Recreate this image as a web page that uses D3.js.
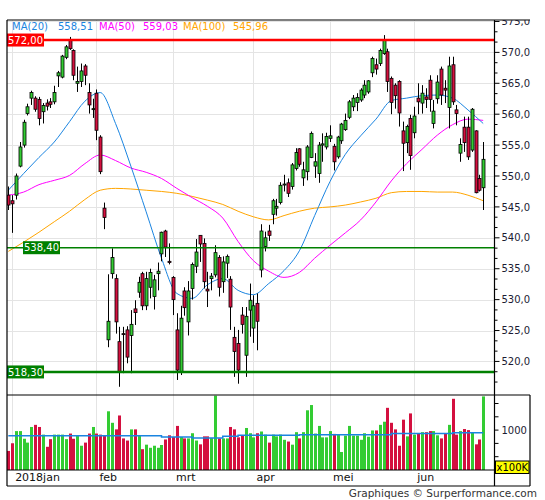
<!DOCTYPE html>
<html><head><meta charset="utf-8">
<script src="https://cdn.jsdelivr.net/npm/d3@7"></script>
<style>body{margin:0;background:#fff}svg{display:block}text{font-family:"DejaVu Sans",Verdana,sans-serif}</style>
</head><body><svg id="c" width="545" height="500"></svg>
<script>
// ---- data (AEX daily, 29 Dec 2017 .. 27 Jun 2018) ----
const open  = [546.9,546.0,546.9,551.6,555.0,560.1,562.6,562.6,562.4,560.4,561.8,562.0,562.0,566.2,566.0,569.2,571.9,570.3,565.0,565.3,567.8,563.5,560.8,563.4,556.3,544.8,523.5,534.2,533.4,523.2,524.5,525.1,524.2,528.5,531.2,534.2,529.0,532.0,530.5,534.2,537.4,541.1,536.2,533.6,525.1,518.3,531.4,526.4,531.8,535.4,540.4,539.1,531.7,533.4,534.0,536.8,532.9,535.9,533.3,523.9,522.9,527.5,521.0,528.3,525.4,529.4,534.8,538.6,541.1,543.8,544.8,545.7,548.6,548.9,548.3,551.2,554.4,549.7,550.7,553.0,551.6,550.4,555.0,554.7,556.1,554.8,553.1,555.7,557.5,559.5,561.2,561.9,562.3,563.1,563.6,566.7,568.0,568.2,569.8,570.1,565.8,564.7,565.3,557.3,555.4,559.3,557.0,562.6,561.8,562.8,565.5,558.5,562.5,567.3,564.2,561.1,568.0,560.7,553.7,557.9,557.9,554.2,557.3,549.6,548.1];
const high  = [548.3,546.9,550.4,555.5,559.1,561.7,563.8,562.9,562.8,561.8,562.4,562.6,564.6,567.0,569.6,571.2,572.5,570.5,567.7,568.2,568.1,565.0,562.5,564.0,556.6,545.7,534.1,538.3,534.1,525.6,525.6,525.7,528.3,529.9,533.7,534.5,534.5,535.0,534.0,536.0,541.0,541.3,539.1,533.8,527.8,529.0,532.0,533.0,536.0,539.8,540.4,539.9,534.5,534.3,538.8,537.2,537.0,537.3,533.8,525.6,525.1,528.8,528.8,532.6,530.7,531.0,542.2,541.0,542.1,546.3,546.3,549.0,550.2,549.6,552.1,554.5,554.5,552.3,555.0,557.2,553.7,555.5,556.9,557.0,558.2,555.2,556.5,558.6,560.1,562.3,563.1,563.4,564.2,565.5,565.5,569.3,569.0,570.6,572.8,570.6,566.1,565.0,565.5,558.8,558.3,559.9,561.2,565.0,564.7,564.2,566.3,562.3,566.3,567.7,565.5,569.3,569.3,561.5,556.1,559.6,559.6,561.0,557.4,550.2,555.5];
const low   = [544.5,540.8,546.2,551.4,554.6,559.8,561.5,560.4,558.2,558.5,560.6,561.0,561.6,564.4,565.8,568.9,570.4,565.5,563.6,564.4,564.7,560.1,559.4,555.8,550.3,541.4,522.3,533.4,524.5,515.9,518.1,519.7,518.1,525.9,530.3,528.3,528.3,530.2,528.4,531.5,536.2,536.9,535.7,527.5,517.0,517.8,527.4,524.2,530.0,534.3,536.1,531.8,528.8,531.5,533.6,530.5,531.1,533.5,525.1,517.5,516.4,524.5,517.5,524.0,523.0,521.8,533.6,537.8,539.5,542.2,543.6,545.4,547.5,546.6,547.8,550.9,551.5,548.4,549.3,552.9,549.7,548.9,552.3,554.3,555.5,550.9,552.8,555.2,557.3,559.2,560.5,560.5,562.0,562.6,563.3,566.0,566.4,567.8,569.6,563.6,560.0,560.9,558.0,550.8,553.7,551.0,556.1,560.0,560.1,561.0,560.4,557.7,561.7,561.5,561.8,557.7,561.5,558.2,552.3,553.9,552.6,553.9,547.2,547.5,544.5];
const close = [545.3,545.5,550.0,554.7,558.7,561.2,563.5,560.8,559.3,561.4,561.3,561.6,563.5,566.7,569.4,570.9,570.6,566.3,565.3,567.0,566.3,561.5,560.9,557.4,550.7,543.3,526.5,536.8,526.4,518.3,524.4,520.7,526.0,527.9,532.8,529.0,533.4,534.4,533.2,534.6,540.9,538.5,536.0,530.0,518.6,527.0,528.7,531.4,535.7,537.7,539.0,532.9,531.4,533.8,537.6,532.0,536.1,537.0,528.8,521.6,518.6,526.0,527.3,529.9,529.0,526.5,541.1,540.0,540.4,546.0,545.1,548.5,548.7,547.2,551.8,553.8,551.9,551.0,554.7,556.9,552.3,555.0,555.2,556.4,556.5,552.3,556.3,558.4,559.0,562.0,562.6,562.7,563.9,564.7,565.4,569.0,567.3,570.3,572.0,565.3,561.9,563.0,560.2,555.3,558.0,553.3,559.7,562.0,563.4,562.4,562.4,560.5,565.2,563.1,563.9,567.8,562.0,560.1,555.1,555.4,553.1,560.8,547.3,547.7,552.7];
const volume = [687,802,985,985,870,812,1047,1079,1047,932,749,864,932,932,932,864,948,870,917,765,812,948,1047,948,932,922,1283,1110,1011,1220,875,843,1011,1011,917,713,781,734,765,734,776,859,922,896,1063,896,875,875,953,843,786,906,906,880,1518,875,875,875,1047,1011,891,917,1032,953,891,953,979,932,812,932,906,932,854,828,781,969,875,969,1298,1377,948,1063,891,891,985,943,932,671,917,1063,917,917,854,953,901,995,995,1079,1126,1335,1110,1011,765,1157,906,1251,932,953,969,969,985,985,922,875,943,1079,1471,932,985,1016,1000,959,786,859,1507];
// moving averages read every 4 sessions
const maStep = 4;
const ma20  = [547.7,550.4,553.0,555.5,558.8,562.1,563.5,558.5,551.6,544.2,536.7,531.0,530.2,532.4,533.4,531.5,530.8,532.6,534.7,537.9,543.6,549.1,553.5,556.5,559.2,562.2,562.6,563.0,563.1,562.6,560.7,558.5];
const ma50  = [546.9,547.4,548.6,549.3,550.1,552.0,553.4,552.5,551.3,550.6,549.6,548.0,546.5,545.1,543.2,539.4,536.3,534.6,533.6,534.4,536.7,538.8,540.8,542.9,545.8,549.2,552.0,554.3,556.6,558.3,559.2,559.0];
const ma100 = [537.8,539.3,540.9,542.6,544.3,546.2,547.7,548.0,547.9,547.7,547.5,547.2,546.7,546.1,545.4,544.3,543.4,542.9,543.6,544.3,544.8,545.0,545.3,545.8,546.4,547.3,547.5,547.5,547.4,547.4,546.9,546.0];
const volAvg = [917,917,917,917,917,917,917,917,917,917,896,896,880,880,906,922,922,922,922,932,932,932,932,932,932,948,948,948,948,959,959,959];
const monthLabels = ["2018jan","feb","mrt","apr","mei","jun"];
const monthStart  = [1,23,43,64,84,106];
const levelValues = [572.00,538.40,518.30];
const levelTexts  = ["572,00","538,40","518,30"];
const legendNames  = ["MA(20)","MA(50)","MA(100)"];
const legendValues = ["558,51","559,03","545,96"];
const priceTickValues = [520,525,530,535,540,545,550,555,560,565,570,575];
const volTickValues = [600,800,1000,1200,1400];
const volTickLabels = {1000:"1000"};

// ---- layout ----
const svg = d3.select("#c");
const L = 7, R = 494.5, RF = 530, T = 20, PB = 395, VB = 470, B = 486;
const x = d3.scaleLinear().domain([0,124]).range([8.3,483.2]);
const y = d3.scaleLinear().domain([514.57,575.24]).range([PB,T]);
const yv = d3.scaleLinear().domain([400,1528]).range([VB,PB]);
const fmt = d3.format(".1f");
const comma = s => s.replace(".",",");
const GREEN = "#33cc33", RED = "#d4103f";
const n = close.length;
const idx = d3.range(n);
const up = i => close[i] >= open[i];

const defs = svg.append("defs");
defs.append("clipPath").attr("id","cp").append("rect").attr("x",L).attr("y",T).attr("width",R-L).attr("height",PB-T);
defs.append("clipPath").attr("id","cv").append("rect").attr("x",L).attr("y",PB).attr("width",R-L).attr("height",VB-PB);
defs.append("clipPath").attr("id","ca").append("rect").attr("x",R).attr("y",T).attr("width",50).attr("height",PB-T);

// grid
const grid = svg.append("g").attr("stroke","#e4e4e4").attr("stroke-width",1);
priceTickValues.forEach(v=>{ if (y(v)>T+1) grid.append("line").attr("x1",L).attr("x2",R).attr("y1",Math.round(y(v))+.5).attr("y2",Math.round(y(v))+.5); });
monthStart.forEach(i=>{ grid.append("line").attr("x1",Math.round(x(i))+.5).attr("x2",Math.round(x(i))+.5).attr("y1",T).attr("y2",VB); });

// MA lines
const maIdx = d3.range(ma20.length).map(k=>k*maStep);
const maLine = arr => d3.line().x((d,k)=>x(maIdx[k])).y(d=>y(d)).curve(d3.curveMonotoneX)(arr);
const gp = svg.append("g").attr("clip-path","url(#cp)");
[[ma100,"#ffa500"],[ma50,"#ff00ff"],[ma20,"#1a84e0"]].forEach(([a,c])=>{
  gp.append("path").attr("d",maLine(a)).attr("fill","none").attr("stroke",c).attr("stroke-width",1);
});

// level lines
const lvlColors = ["#ff0000","#008000","#008000"];
const lvlWidth = [2.5,1.5,2.5];
levelValues.forEach((v,k)=>{
  svg.append("line").attr("x1",L).attr("x2",R).attr("y1",y(v)).attr("y2",y(v)).attr("stroke",lvlColors[k]).attr("stroke-width",lvlWidth[k]);
});

// candles
const gc = gp.append("g");
idx.forEach(i=>{
  const cx = Math.round(x(i));
  gc.append("line").attr("x1",cx+.5).attr("x2",cx+.5).attr("y1",y(high[i])).attr("y2",y(low[i])).attr("stroke","#000").attr("stroke-width",1);
  const top = y(Math.max(open[i],close[i])), bot = y(Math.min(open[i],close[i]));
  gc.append("rect").attr("x",cx-1).attr("y",top).attr("width",3).attr("height",Math.max(1,bot-top))
    .attr("fill",up(i)?GREEN:RED).attr("stroke","#000").attr("stroke-width",0.8);
});

// level tags
const tagX = [7,23,7];
levelValues.forEach((v,k)=>{
  const g = svg.append("g");
  g.append("rect").attr("x",tagX[k]).attr("y",y(v)-6.5).attr("width",37).attr("height",13).attr("fill",lvlColors[k]);
  g.append("text").attr("x",tagX[k]+1).attr("y",y(v)).attr("dy","0.36em").attr("font-size",10).attr("fill","#fff").text(levelTexts[k]);
});

// volume
const gv = svg.append("g").attr("clip-path","url(#cv)");
idx.forEach(i=>{
  gv.append("rect").attr("x",Math.round(x(i))-1).attr("y",yv(volume[i])).attr("width",3).attr("height",VB-yv(volume[i])).attr("fill",up(i)?GREEN:RED);
});
gv.append("path").attr("d",d3.line().x((d,k)=>x(maIdx[k])).y(d=>yv(d)).curve(d3.curveStepAfter)(volAvg))
  .attr("fill","none").attr("stroke","#1a84e0").attr("stroke-width",1.5);

// frame
const fr = svg.append("g").attr("stroke","#000").attr("stroke-width",1.2).attr("fill","none");
fr.append("line").attr("x1",L).attr("x2",L).attr("y1",T).attr("y2",B);
fr.append("line").attr("x1",L).attr("x2",RF).attr("y1",T).attr("y2",T);
fr.append("line").attr("x1",R).attr("x2",R).attr("y1",T).attr("y2",B);
fr.append("line").attr("x1",L).attr("x2",RF).attr("y1",PB).attr("y2",PB);
fr.append("line").attr("x1",L).attr("x2",R).attr("y1",VB).attr("y2",VB);
fr.append("line").attr("x1",L).attr("x2",RF).attr("y1",B).attr("y2",B);
fr.append("line").attr("x1",RF).attr("x2",RF).attr("y1",PB).attr("y2",B);

// price axis (right)
const ga = svg.append("g").attr("clip-path","url(#ca)");
const minor = d3.range(515,575.3,5/3).filter(v=>Math.abs(v/5-Math.round(v/5))>0.01);
minor.forEach(v=>ga.append("line").attr("x1",R).attr("x2",R+3).attr("y1",y(v)).attr("y2",y(v)).attr("stroke","#000"));
priceTickValues.forEach(v=>{
  ga.append("line").attr("x1",R).attr("x2",R+5).attr("y1",y(v)).attr("y2",y(v)).attr("stroke","#000");
  ga.append("text").attr("x",R+7).attr("y",y(v)).attr("dy","0.36em").attr("font-size",10).attr("fill","#1b1b33").text(comma(fmt(v)));
});

// volume axis
volTickValues.forEach(v=>{
  svg.append("line").attr("x1",R).attr("x2",R+4).attr("y1",yv(v)).attr("y2",yv(v)).attr("stroke","#000");
  if (volTickLabels[v]) svg.append("text").attr("x",R+7).attr("y",yv(v)).attr("dy","0.36em").attr("font-size",10).attr("fill","#1b1b33").text(volTickLabels[v]);
});
svg.append("rect").attr("x",R+1).attr("y",461).attr("width",RF-R-2).attr("height",12.5).attr("fill","#ffff00").attr("stroke","#000").attr("stroke-width",1);
svg.append("text").attr("x",R+2).attr("y",467.5).attr("dy","0.36em").attr("font-size",10).attr("fill","#000").text("x100K");

// month labels
monthStart.forEach((i,k)=>{
  svg.append("text").attr("x",x(i)+3).attr("y",481).attr("font-size",11).attr("fill","#111").text(monthLabels[k]);
});

// legend
const legColors = ["#1a84e0","#ff00ff","#ffa500"];
const legX = [[12,58],[99,143],[183,233]];
legendNames.forEach((nm,k)=>{
  svg.append("text").attr("x",legX[k][0]).attr("y",30).attr("font-size",10).attr("fill",legColors[k]).text(nm);
  svg.append("text").attr("x",legX[k][1]).attr("y",30).attr("font-size",10).attr("fill",legColors[k]).text(legendValues[k]);
});

// credit
svg.append("text").attr("x",537).attr("y",497).attr("text-anchor","end").attr("font-size",10.5).attr("fill","#333").text("Graphiques © Surperformance.com");
</script></body></html>
